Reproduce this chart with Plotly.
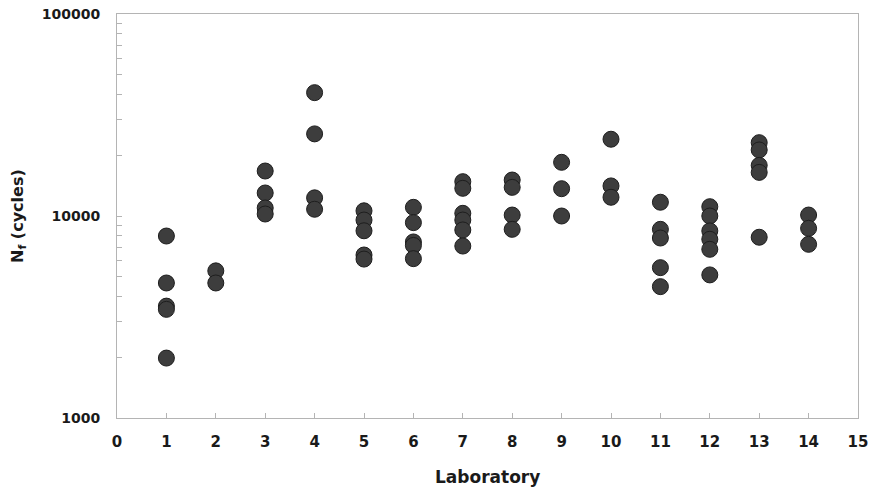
import plotly.graph_objects as go

labs = [1, 1, 1, 1, 1,
        2, 2,
        3, 3, 3, 3,
        4, 4, 4, 4,
        5, 5, 5, 5, 5,
        6, 6, 6, 6, 6,
        7, 7, 7, 7, 7, 7,
        8, 8, 8, 8,
        9, 9, 9,
        10, 10, 10,
        11, 11, 11, 11, 11,
        12, 12, 12, 12, 12, 12,
        13, 13, 13, 13, 13,
        14, 14, 14]
cycles = [7960, 4660, 3580, 3450, 1980,
          5350, 4660,
          16700, 13000, 10960, 10230,
          40800, 25500, 12300, 10800,
          10610, 9550, 8450, 6410, 6120,
          11040, 9270, 7440, 7150, 6150,
          14790, 13710, 10310, 9550, 8530, 7100,
          15070, 13860, 10110, 8590,
          18440, 13650, 10000,
          23990, 14090, 12380,
          11700, 8590, 7780, 5550, 4470,
          11120, 10000, 8440, 7670, 6840, 5110,
          23070, 21230, 17810, 16440, 7850,
          10110, 8690, 7240]

x_ticks = list(range(0, 16))
y_ticks = [1000, 10000, 100000]
y_tick_labels = ["1000", "10000", "100000"]

FONT = "DejaVu Sans"
AX = "#b4b4b4"

fig = go.Figure()
fig.add_trace(go.Scatter(
    x=labs, y=cycles, mode="markers",
    marker=dict(size=16, color="#3d3d3d", line=dict(color="#1e1e1e", width=1)),
    showlegend=False, cliponaxis=False,
))

fig.update_layout(
    width=879, height=489,
    margin=dict(l=109, r=29, t=6, b=79),
    paper_bgcolor="white", plot_bgcolor="white",
    font=dict(family=FONT, color="#1a1a1a"),
    xaxis=dict(
        range=[0, 15], tickvals=x_ticks, ticktext=[str(v) for v in x_ticks],
        showline=True, linecolor=AX, linewidth=1, mirror=True, automargin=False,
        ticks="inside", ticklen=5, tickcolor=AX, showgrid=False, zeroline=False,
        tickfont=dict(family=FONT, size=15, weight="bold", color="#1a1a1a"),
        ticklabelstandoff=10, ticklabeloverflow="allow",
    ),
    yaxis=dict(
        type="log", range=[3, 5], tickvals=y_ticks, ticktext=y_tick_labels,
        showline=True, linecolor=AX, linewidth=1, mirror=True, automargin=False,
        ticks="inside", ticklen=5, tickcolor=AX, showgrid=False, zeroline=False,
        tickfont=dict(family=FONT, size=14, weight="bold", color="#1a1a1a"),
        ticklabelstandoff=13, ticklabeloverflow="allow",
        minor=dict(ticks="inside", ticklen=5, tickcolor=AX, dtick="D1", showgrid=False),
    ),
    annotations=[
        dict(text="Laboratory", xref="paper", yref="paper", x=0.5, y=0,
             yshift=-59, showarrow=False, yanchor="middle",
             font=dict(family=FONT, size=17, weight="bold", color="#1a1a1a")),
        dict(text="N<sub>f</sub> (cycles)", xref="paper", yref="paper", x=0, y=0.5,
             xshift=-99, showarrow=False, textangle=-90, xanchor="center",
             font=dict(family=FONT, size=16, weight="bold", color="#1a1a1a")),
    ],
)

fig.write_html("out.html")
